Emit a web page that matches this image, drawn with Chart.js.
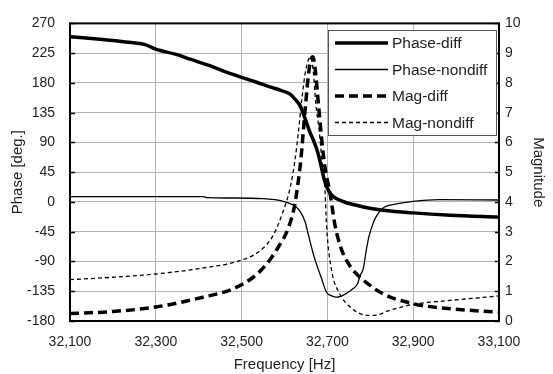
<!DOCTYPE html>
<html>
<head>
<meta charset="utf-8">
<script src="https://cdn.jsdelivr.net/npm/chart.js@4"></script>
<style>
  html, body { margin: 0; padding: 0; background: #fff; }
  #wrap { width: 553px; height: 374px; }
</style>
</head>
<body>
<div id="wrap"><canvas id="chart" width="553" height="374"></canvas></div>
<script>
// Frequency [Hz] and values
const phaseDiffFreq = [32100, 32170, 32230, 32275, 32300, 32345, 32380, 32426, 32461, 32500, 32535, 32566, 32590, 32613, 32625, 32636, 32648, 32659, 32670, 32678, 32684, 32694, 32706, 32736, 32768, 32799, 32830, 32900, 32986, 33100];
const phaseDiff = [250, 246, 242, 238, 231, 223.5, 216, 206, 197, 188.5, 181, 174, 169, 163, 155, 146, 126, 106, 89, 74, 58, 31, 13.5, 1, -5, -9.5, -12.5, -16.5, -20, -23];

const phaseNondiffFreq = [32100, 32410, 32420, 32473, 32550, 32597, 32625, 32636, 32648, 32655, 32670, 32686, 32698, 32710, 32722, 32745, 32760, 32770, 32776, 32784, 32790, 32797, 32805, 32812, 32830, 32861, 32900, 32962, 33100];
const phaseNondiff = [8, 8, 6.5, 6, 5, 1, -6.5, -14, -30, -48, -85, -115, -136.5, -142, -144, -138, -131, -124, -112, -100, -75, -52, -35, -24, -9, -3, 1, 3.5, 3];

const magDiffFreq = [32100, 32200, 32300, 32410, 32480, 32527, 32558, 32585, 32609, 32624, 32632, 32638, 32644, 32650, 32656, 32662, 32666, 32672, 32679, 32686, 32694, 32706, 32718, 32733, 32755, 32770, 32790, 32830, 32900, 32986, 33100];
const magDiff = [0.25, 0.32, 0.47, 0.8, 1.08, 1.47, 1.91, 2.47, 3.13, 3.91, 4.69, 5.4, 6.4, 7.4, 8.3, 8.8, 8.88, 8.4, 7.3, 6.2, 5.2, 4.3, 3.2, 2.4, 1.8, 1.55, 1.3, 0.91, 0.58, 0.41, 0.3];

const magNondiffFreq = [32100, 32200, 32300, 32419, 32496, 32543, 32573, 32597, 32613, 32624, 32632, 32640, 32648, 32655, 32660, 32667, 32673, 32680, 32688, 32694, 32698, 32710, 32729, 32753, 32776, 32795, 32810, 32845, 32900, 32986, 33100];
const magNondiff = [1.39, 1.47, 1.58, 1.8, 2.03, 2.36, 2.86, 3.69, 4.47, 5.36, 6.3, 7.4, 8.3, 8.75, 8.87, 8.4, 7.3, 6.5, 5.3, 4.5, 3.2, 1.69, 0.91, 0.47, 0.25, 0.19, 0.19, 0.36, 0.56, 0.69, 0.84];

const xTicks = [32100, 32300, 32500, 32700, 32900, 33100];

const toPoints = (xs, ys) => xs.map((x, i) => ({ x: x, y: ys[i] }));

const FONT = '"Liberation Sans", Arial, sans-serif';
const TEXT = '#222';

// frame round the plot area, with short inward ticks on both y axes
const framePlugin = {
    id: 'frame',
    afterDraw(chart) {
        const { ctx, chartArea: a } = chart;
        ctx.save();
        ctx.strokeStyle = '#000';
        ctx.lineWidth = 1.5;
        chart.scales.y.ticks.forEach(t => {
            const py = Math.round(chart.scales.y.getPixelForValue(t.value)) + 0.5;
            ctx.beginPath();
            ctx.moveTo(a.left, py); ctx.lineTo(a.left + 5, py);
            ctx.moveTo(a.right, py); ctx.lineTo(a.right - 4, py);
            ctx.stroke();
        });
        ctx.lineWidth = 2;
        ctx.strokeRect(a.left, a.top, a.right - a.left, a.bottom - a.top);
        ctx.restore();
    }
};

// legend box inside the plot, top right
const legendPlugin = {
    id: 'boxLegend',
    afterDraw(chart) {
        const ctx = chart.ctx;
        const x0 = 328, y0 = 30, w = 168, h = 105;
        ctx.save();
        ctx.fillStyle = '#fff';
        ctx.fillRect(x0, y0, w, h);
        ctx.strokeStyle = '#555';
        ctx.lineWidth = 1;
        ctx.strokeRect(x0 + 0.5, y0 + 0.5, w, h);
        ctx.font = '15.5px ' + FONT;
        ctx.textBaseline = 'middle';
        chart.data.datasets.forEach((ds, i) => {
            const y = y0 + 13 + i * 26.5;
            ctx.beginPath();
            ctx.strokeStyle = '#000';
            ctx.lineWidth = ds.borderWidth;
            ctx.setLineDash(ds.borderDash || []);
            ctx.moveTo(x0 + 7, y);
            ctx.lineTo(x0 + 60, y);
            ctx.stroke();
            ctx.setLineDash([]);
            ctx.fillStyle = TEXT;
            ctx.fillText(ds.label, x0 + 64, y + 1);
        });
        ctx.restore();
    }
};

const ctx = document.getElementById('chart').getContext('2d');
new Chart(ctx, {
    type: 'line',
    data: {
        datasets: [
            { label: 'Phase-diff', data: toPoints(phaseDiffFreq, phaseDiff), yAxisID: 'y', borderColor: '#000', borderWidth: 3.5 },
            { label: 'Phase-nondiff', data: toPoints(phaseNondiffFreq, phaseNondiff), yAxisID: 'y', borderColor: '#000', borderWidth: 1.3 },
            { label: 'Mag-diff', data: toPoints(magDiffFreq, magDiff), yAxisID: 'y1', borderColor: '#000', borderWidth: 3.5, borderDash: [9, 5] },
            { label: 'Mag-nondiff', data: toPoints(magNondiffFreq, magNondiff), yAxisID: 'y1', borderColor: '#000', borderWidth: 1.3, borderDash: [4, 3] }
        ]
    },
    options: {
        responsive: false,
        animation: false,
        events: [],
        layout: { padding: { top: 21, left: 0, right: 0, bottom: 0 } },
        elements: {
            point: { radius: 0 },
            line: { cubicInterpolationMode: 'monotone', fill: false }
        },
        plugins: { legend: { display: false }, tooltip: { enabled: false } },
        scales: {
            x: {
                type: 'linear',
                min: 32100, max: 33100,
                afterBuildTicks: s => { s.ticks = xTicks.map(v => ({ value: v })); },
                afterFit: s => { s.height = 53; },
                grid: { color: '#b4b4b4', lineWidth: 1, drawTicks: false },
                border: { display: false },
                ticks: {
                    padding: 13, color: TEXT, font: { family: FONT, size: 14 },
                    maxRotation: 0,
                    callback: v => v.toLocaleString('en-US')
                },
                title: { display: true, text: 'Frequency [Hz]', color: TEXT, font: { family: FONT, size: 15 }, padding: { top: 0, bottom: 0 } }
            },
            y: {
                position: 'left',
                min: -180, max: 270,
                ticks: { stepSize: 45, padding: 15, color: TEXT, font: { family: FONT, size: 14 } },
                afterFit: s => { s.width = 70; },
                grid: { color: '#b4b4b4', lineWidth: 1, drawTicks: false },
                border: { display: false },
                title: { display: true, text: 'Phase [deg.]', color: TEXT, font: { family: FONT, size: 15 }, padding: { top: 9, bottom: 9 } }
            },
            y1: {
                position: 'right',
                min: 0, max: 10,
                ticks: { stepSize: 1, padding: 6, color: TEXT, font: { family: FONT, size: 14 } },
                afterFit: s => { s.width = 54; },
                grid: { drawOnChartArea: false, drawTicks: false },
                border: { display: false },
                title: { display: true, text: 'Magnitude', color: TEXT, font: { family: FONT, size: 15 }, padding: { top: 6, bottom: 6 } }
            }
        }
    },
    plugins: [framePlugin, legendPlugin]
});
</script>
</body>
</html>
